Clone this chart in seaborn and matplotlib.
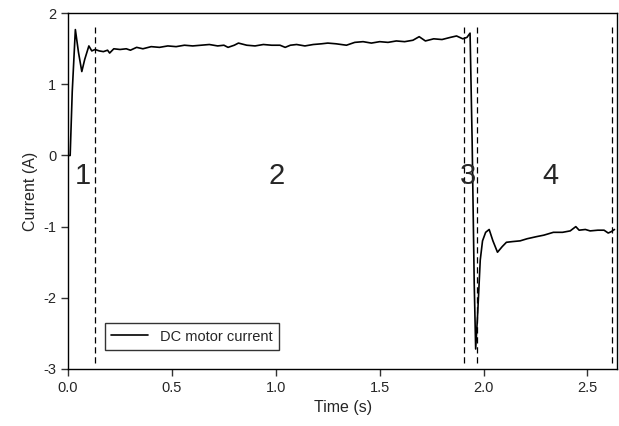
import numpy as np
import pandas as pd
import seaborn as sns
import matplotlib.pyplot as plt

# time (s) and DC motor current (A)
time_s = [0.0, 0.01, 0.02, 0.035, 0.05, 0.066, 0.08, 0.10, 0.114, 0.13,
          0.15, 0.17, 0.19, 0.20, 0.22, 0.25, 0.28, 0.30, 0.33, 0.36,
          0.40, 0.44, 0.48, 0.52, 0.56, 0.60, 0.64, 0.68, 0.72, 0.75,
          0.77, 0.80, 0.82, 0.86, 0.90, 0.94, 0.98, 1.02, 1.045, 1.07,
          1.10, 1.14, 1.18, 1.22, 1.25, 1.29, 1.34, 1.38, 1.42, 1.46,
          1.50, 1.54, 1.58, 1.62, 1.66, 1.69, 1.72, 1.76, 1.80, 1.84,
          1.87, 1.90, 1.92, 1.935, 1.945, 1.955, 1.962, 1.972, 1.984, 1.995,
          2.01, 2.027, 2.045, 2.067, 2.09, 2.11, 2.14, 2.176, 2.21, 2.256,
          2.29, 2.336, 2.38, 2.417, 2.444, 2.46, 2.49, 2.513, 2.55, 2.58,
          2.60, 2.615, 2.63]
current_a = [0.0, 0.0, 0.9, 1.77, 1.45, 1.18, 1.35, 1.54, 1.47, 1.49,
             1.47, 1.46, 1.48, 1.44, 1.50, 1.49, 1.50, 1.48, 1.52, 1.50,
             1.53, 1.52, 1.54, 1.53, 1.55, 1.54, 1.55, 1.56, 1.54, 1.55,
             1.52, 1.55, 1.58, 1.55, 1.54, 1.56, 1.55, 1.55, 1.52, 1.55,
             1.56, 1.54, 1.56, 1.57, 1.58, 1.57, 1.55, 1.59, 1.60, 1.58,
             1.60, 1.59, 1.61, 1.60, 1.62, 1.67, 1.61, 1.64, 1.63, 1.66,
             1.68, 1.64, 1.66, 1.72, 0.2, -1.8, -2.72, -2.2, -1.47, -1.2,
             -1.08, -1.04, -1.2, -1.36, -1.28, -1.22, -1.21, -1.20, -1.17, -1.14,
             -1.12, -1.08, -1.08, -1.06, -1.00, -1.05, -1.04, -1.06, -1.05, -1.05,
             -1.09, -1.07, -1.04]

# dashed phase boundaries and phase labels
phase_bounds = [0.13, 1.908, 1.967, 2.617]
phase_names = ["1", "2", "3", "4"]
phase_x = [0.072, 1.006, 1.926, 2.32]

df = pd.DataFrame({"Time (s)": time_s, "Current (A)": current_a})

sns.set_style("ticks")
plt.rcParams["font.family"] = ["Liberation Sans", "DejaVu Sans"]

fig = plt.figure(figsize=(6.19, 4.26), dpi=100)
ax = fig.add_axes([0.110, 0.134, 0.887, 0.835])

sns.lineplot(data=df, x="Time (s)", y="Current (A)", ax=ax, color="black",
             linewidth=1.2, label="DC motor current")

ax.vlines(phase_bounds, -2.91, 1.81, colors="black", linestyles=(0, (5, 3)),
          linewidth=0.9)
for name, xp in zip(phase_names, phase_x):
    ax.text(xp, -0.29, name, fontsize=21, ha="center", va="center")

ax.set_xlim(0, 2.643)
ax.set_ylim(-3, 2)
ax.set_xticks([0.0, 0.5, 1.0, 1.5, 2.0, 2.5])
ax.set_xticklabels(["0.0", "0.5", "1.0", "1.5", "2.0", "2.5"])
ax.set_yticks([-3, -2, -1, 0, 1, 2])
ax.set_yticklabels(["-3", "-2", "-1", "0", "1", "2"])
ax.tick_params(direction="out", length=5, width=1, labelsize=10.5,
               top=False, right=False, color="#333333")
ax.set_xlabel("Time (s)", fontsize=11.5)
ax.set_ylabel("Current (A)", fontsize=11.5)
for sp in ax.spines.values():
    sp.set_visible(True)
    sp.set_color("black")
    sp.set_linewidth(1)

leg = ax.legend(loc="lower left", bbox_to_anchor=(0.067, 0.053),
                borderaxespad=0, fontsize=10.5, frameon=True, fancybox=False,
                handlelength=2.5, borderpad=0.45)
leg.get_frame().set_edgecolor("black")
leg.get_frame().set_linewidth(1)

fig.savefig("out.png", dpi=100)
